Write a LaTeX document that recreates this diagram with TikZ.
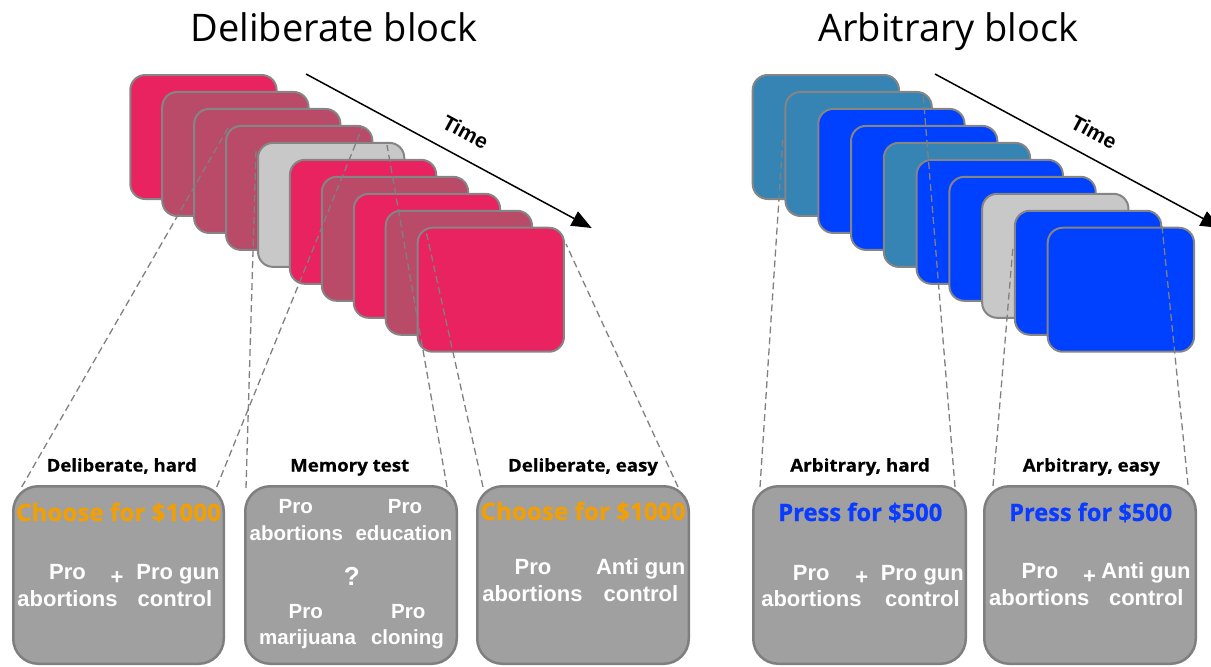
\documentclass[tikz,border=0pt]{standalone}
\usepackage{fontspec}
\usepackage{graphicx}
\setmainfont{Liberation Sans}
\newfontfamily\titlefont{Open Sans}
\newfontfamily\labelfont{Open Sans}[BoldFeatures={FakeBold=0.6}]
\usetikzlibrary{arrows.meta}
\definecolor{pinkc}{HTML}{E8235F}
\definecolor{mutedc}{HTML}{B94A68}
\definecolor{grayc}{HTML}{C8C8C8}
\definecolor{tealc}{HTML}{3584B4}
\definecolor{bluec}{HTML}{0040FF}
\definecolor{cardedge}{HTML}{858585}
\definecolor{panelfill}{HTML}{A0A0A0}
\definecolor{paneledge}{HTML}{7F7F7F}
\definecolor{dashc}{HTML}{808080}
\definecolor{orangec}{HTML}{F29F05}
\definecolor{bluetext}{HTML}{0A3CFF}
\newcommand\fitto[2]{\resizebox{#1}{\height}{#2}}
\begin{document}
\begin{tikzpicture}[x=1pt,y=-1pt,
  card/.style={draw=cardedge,line width=2pt,rounded corners=15pt,minimum width=146.3pt,minimum height=124pt,anchor=north west,inner sep=0pt,outer sep=0pt},
  panel/.style={draw=paneledge,fill=panelfill,line width=2.5pt,rounded corners=25pt,minimum height=177.5pt,anchor=north west,inner sep=0pt,outer sep=0pt},
  guide/.style={draw=dashc,line width=1.3pt,dash pattern=on 7pt off 4pt},
  timearrow/.style={line width=1.5pt,-{Triangle[length=20pt,width=16pt]}},
  timelabel/.style={font=\bfseries\fontsize{21}{24}\selectfont,rotate=-28.4,inner sep=0pt},
  title/.style={font=\titlefont\fontsize{38}{44}\selectfont,anchor=base,inner sep=0pt},
  cond/.style={font=\labelfont\bfseries\fontsize{17.5}{20}\selectfont,anchor=base,inner sep=0pt},
  money/.style={font=\labelfont\bfseries\fontsize{24}{28}\selectfont,anchor=base,inner sep=0pt},
  opt/.style={font=\bfseries\fontsize{22}{26}\selectfont,text=white,anchor=base,inner sep=0pt},
  optm/.style={font=\bfseries\fontsize{20.5}{24}\selectfont,text=white,anchor=base,inner sep=0pt},
  qmark/.style={font=\bfseries\fontsize{26}{30}\selectfont,text=white,anchor=base,inner sep=0pt},
]
\useasboundingbox (0,0) rectangle (1211,667);
\clip (0,0) rectangle (1211,667);

% titles
\node[title] (t1) at (334.2,41.7) {Deliberate block};
\node[title] (t2) at (948.5,41.7) {Arbitrary block};

% card stacks
\foreach \i/\c in {0/pinkc,1/mutedc,2/mutedc,3/mutedc,4/grayc,5/pinkc,6/mutedc,7/pinkc,8/mutedc,9/pinkc}
  \node[card,fill=\c] (L\i) at ({130.3+31.93*\i},{75+16.97*\i}) {};
\foreach \i/\c in {0/tealc,1/tealc,2/bluec,3/bluec,4/tealc,5/bluec,6/bluec,7/grayc,8/bluec,9/bluec}
  \node[card,fill=\c] (R\i) at ({752.7+32.78*\i},{75+16.97*\i}) {};

% time arrows
\coordinate (ls) at (306,74);
\coordinate (le) at (591.7,228);
\coordinate (rs) at (935,74);
\coordinate (re) at (1220.7,228);
\draw[timearrow] (ls) -- (le);
\draw[timearrow] (rs) -- (re);
\node[timelabel] (tl) at (465.5,132) {Time};
\node[timelabel] (tr) at (1094,132) {Time};

% guide lines
\coordinate (a1) at (21.7,487);  \coordinate (a2) at (228,128);
\coordinate (b1) at (216.7,487); \coordinate (b2) at (362,128);
\coordinate (c1) at (246,488);   \coordinate (c2) at (256,150);
\coordinate (d1) at (447,487);   \coordinate (d2) at (387,145);
\coordinate (e1) at (483,487);   \coordinate (e2) at (426,231);
\coordinate (f1) at (678,487);   \coordinate (f2) at (566,244);
\coordinate (g1) at (760,487);   \coordinate (g2) at (783,138);
\coordinate (h1) at (955,487);   \coordinate (h2) at (923,93);
\coordinate (i1) at (993,486);   \coordinate (i2) at (1013,246);
\coordinate (j1) at (1188,485);  \coordinate (j2) at (1162,226);
\foreach \p in {a,b,c,d,e,f,g,h,i,j} \draw[guide] (\p1) -- (\p2);

% panels
\node[panel,minimum width=210.5pt] (B1) at (13.25,486.25) {};
\node[panel,minimum width=211.5pt] (B2) at (245.25,486.25) {};
\node[panel,minimum width=211.5pt] (B3) at (477.25,486.25) {};
\node[panel,minimum width=212.5pt] (B4) at (753.25,486.25) {};
\node[panel,minimum width=211.5pt] (B5) at (984.25,486.25) {};

% condition labels
\node[cond] (c1l) at (121.7,471.5) {\fitto{150pt}{Deliberate, hard}};
\node[cond] (c2l) at (349.7,471.5) {\fitto{119pt}{Memory test}};
\node[cond] (c3l) at (583,471.5) {\fitto{150pt}{Deliberate, easy}};
\node[cond] (c4l) at (860,471.5) {\fitto{139.5pt}{Arbitrary, hard}};
\node[cond] (c5l) at (1091.3,471.5) {\fitto{137pt}{Arbitrary, easy}};

% panel 1
\node[money,text=orangec] (m1) at (118.5,521) {\fitto{205pt}{Choose for \$1000}};
\node[opt] (p1a) at (67.5,579) {Pro};
\node[opt] (p1b) at (67.5,606) {abortions};
\node[opt] (p1p) at (117,584) {+};
\node[opt] (p1c) at (178,579) {Pro gun};
\node[opt] (p1d) at (175,606) {control};

% panel 2
\node[optm] (p2a) at (295.8,513.5) {Pro};
\node[optm] (p2b) at (296.3,540) {abortions};
\node[optm] (p2c) at (405,513.5) {Pro};
\node[optm] (p2d) at (404,540) {education};
\node[qmark] (p2q) at (351.7,585) {?};
\node[optm] (p2e) at (305.8,618.5) {Pro};
\node[optm] (p2f) at (307.5,644) {marijuana};
\node[optm] (p2g) at (408.3,618.5) {Pro};
\node[optm] (p2h) at (407.5,644) {cloning};

% panel 3
\node[money,text=orangec] (m3) at (583,520) {\fitto{205pt}{Choose for \$1000}};
\node[opt] (p3a) at (533,574) {Pro};
\node[opt] (p3b) at (532.4,601) {abortions};
\node[opt] (p3c) at (640.7,574) {Anti gun};
\node[opt] (p3d) at (641,601) {control};

% panel 4
\node[money,text=bluetext] (m4) at (860.3,521) {\fitto{164pt}{Press for \$500}};
\node[opt] (p4a) at (811.2,580) {Pro};
\node[opt] (p4b) at (811.4,606) {abortions};
\node[opt] (p4p) at (861.7,584) {+};
\node[opt] (p4c) at (922.3,580) {Pro gun};
\node[opt] (p4d) at (922.4,606) {control};

% panel 5
\node[money,text=bluetext] (m5) at (1090.7,521) {\fitto{163pt}{Press for \$500}};
\node[opt] (p5a) at (1040,578) {Pro};
\node[opt] (p5b) at (1039.3,605) {abortions};
\node[opt] (p5p) at (1089.5,583) {+};
\node[opt] (p5c) at (1146,578) {Anti gun};
\node[opt] (p5d) at (1146.3,605) {control};
\end{tikzpicture}
\end{document}
